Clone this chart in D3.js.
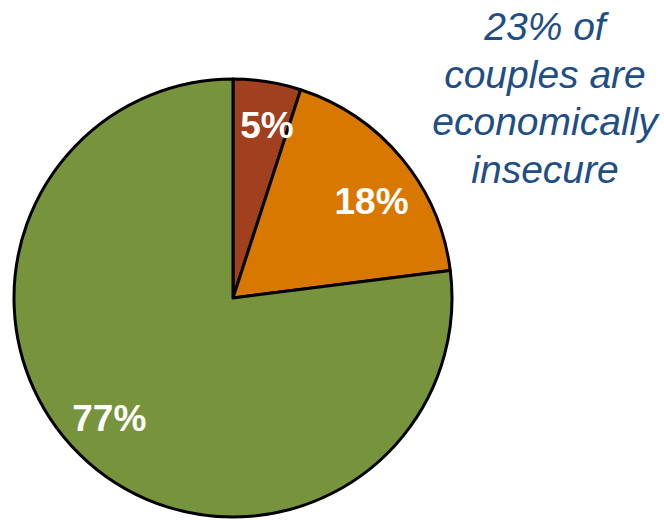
<!DOCTYPE html>
<html><head><meta charset="utf-8">
<script src="https://cdn.jsdelivr.net/npm/d3@7"></script>
<style>body{margin:0;background:#fff}svg{display:block}</style>
</head><body>
<svg id="c" width="664" height="520"></svg>
<script>
const categories = ["Severely insecure", "Insecure", "Secure"];
const values = [5, 18, 77];
const labels = ["5%", "18%", "77%"];
const colors = ["#A0401F", "#D97800", "#77933C"];
const noteLines = ["23% of", "couples are", "economically", "insecure"];

const svg = d3.select("#c");
const cx = 233, cy = 298, R = 219;
const labelNudge = [[7, -3], [6, 13], [-10, -9]];
const g = svg.append("g").attr("transform", `translate(${cx},${cy})`);
const pie = d3.pie().sort(null).value(d => d)(values);
const arc = d3.arc().innerRadius(0).outerRadius(R);
const labelArc = d3.arc().innerRadius(172).outerRadius(172);

g.selectAll("path").data(pie).join("path")
  .attr("d", arc)
  .attr("fill", (d, i) => colors[i])
  .attr("stroke", "#000").attr("stroke-width", 3).attr("stroke-linejoin", "round");

g.selectAll("text.lbl").data(pie).join("text")
  .attr("class", "lbl")
  .attr("transform", (d, i) => {
    const c = labelArc.centroid(d);
    return `translate(${c[0] + labelNudge[i][0]},${c[1] + labelNudge[i][1]})`;
  })
  .attr("text-anchor", "middle").attr("dominant-baseline", "central")
  .attr("font-family", "Liberation Sans, Arial, sans-serif")
  .attr("font-weight", "bold").attr("font-size", 37).attr("fill", "#fff")
  .text((d, i) => labels[i]);

svg.append("text")
  .attr("x", 545).attr("y", 40)
  .attr("text-anchor", "middle")
  .attr("font-family", "Liberation Sans, Arial, sans-serif")
  .attr("font-style", "italic").attr("font-size", 39).attr("fill", "#1F4E85")
  .selectAll("tspan").data(noteLines).join("tspan")
  .attr("x", 545).attr("dy", (d, i) => i === 0 ? 0 : 47.5)
  .text(d => d);
</script>
</body></html>
